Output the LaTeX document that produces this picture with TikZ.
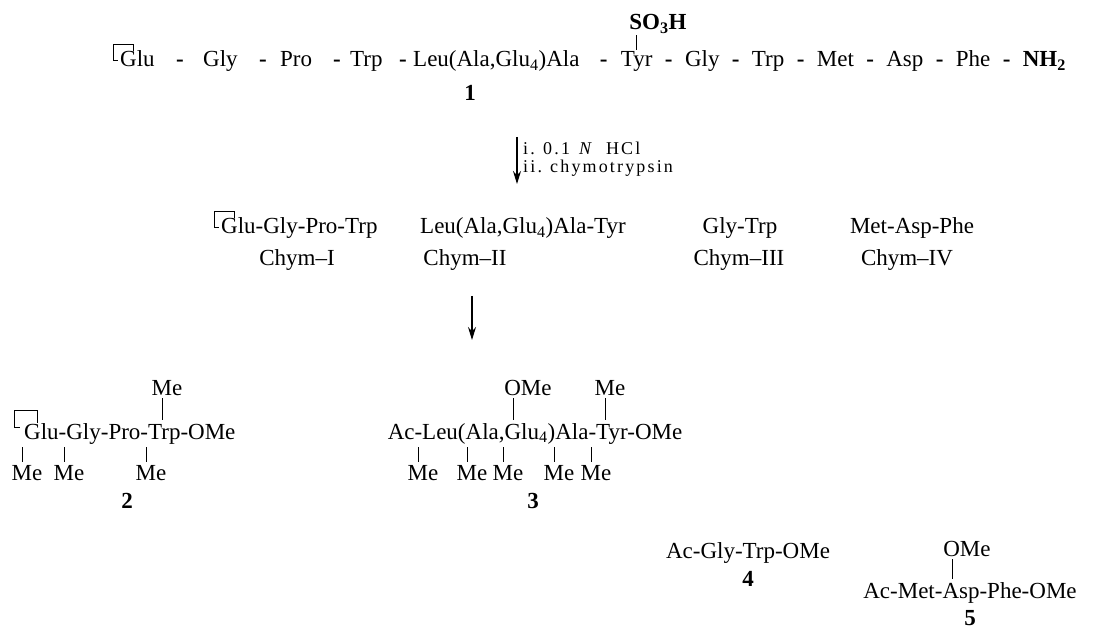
\documentclass[tikz,border=0pt]{standalone}
\usepackage{fontspec}
\setmainfont{Liberation Serif}
\newfontfamily\condfont[LetterSpace=12]{Liberation Serif}
\usetikzlibrary{arrows.meta,positioning}

\begin{document}
\begin{tikzpicture}[x=1pt, y=-1pt,
        pep/.style={font=\fontsize{23}{27}\selectfont, inner sep=0pt},
        cmpd/.style={font=\fontsize{23}{27}\selectfont\bfseries, inner sep=0pt},
        cond/.style={font=\condfont\fontsize{18}{20}\selectfont, inner sep=0pt},
        bond/.style={line width=0.6pt, shorten <=3pt, shorten >=3pt},
        ring/.style={line width=0.6pt},
        rxn/.style={line width=1.3pt, -{Stealth[length=13pt,width=8pt]}}]
    \useasboundingbox (0,0) rectangle (1116,628);

    \node[pep, anchor=base west] (glu) at (120,67) {Glu};
    \node[cmpd, anchor=base] (d1) at (180,67) {-};
    \node[pep, anchor=base west] (gly) at (203,67) {Gly};
    \node[cmpd, anchor=base] (d2) at (263,67) {-};
    \node[pep, anchor=base west] (pro) at (280,67) {Pro};
    \node[cmpd, anchor=base] (d3) at (337,67) {-};
    \node[pep, anchor=base west] (trp) at (350,67) {Trp};
    \node[cmpd, anchor=base] (d4) at (403,67) {-};
    \node[pep, anchor=base west] (leu) at (413,67) {Leu(Ala,Glu\textsubscript{4})Ala};
    \node[cmpd, base right=20pt of leu] (d5) {-};
    \node[pep, base right=13pt of d5] (tyr) {Tyr};
    \node[cmpd, base right=12pt of tyr] (d6) {-};
    \node[pep, base right=12pt of d6] (glyb) {Gly};
    \node[cmpd, base right=12pt of glyb] (d7) {-};
    \node[pep, base right=12pt of d7] (trpb) {Trp};
    \node[cmpd, base right=12pt of trpb] (d8) {-};
    \node[pep, base right=12pt of d8] (met) {Met};
    \node[cmpd, base right=12pt of met] (d9) {-};
    \node[pep, base right=12pt of d9] (asp) {Asp};
    \node[cmpd, base right=12pt of asp] (d10) {-};
    \node[pep, base right=12pt of d10] (phe) {Phe};
    \node[cmpd, base right=12pt of phe] (d11) {-};
    \node[cmpd, base right=12pt of d11] (nh) {NH\textsubscript{2}};
    \node[cmpd, anchor=base] (so) at (658,30) {SO\textsubscript{3}H};
    \draw[bond, shorten <=1pt, shorten >=2pt] ([xshift=-22pt]so.south) -- ([xshift=-22pt]so.south |- tyr.north);
    \draw[ring, shift={(glu.base west)}] (13,-16) -- (13,-23) -- (-7,-23) -- (-7,-7) -- (-2,-7);
    \node[cmpd, anchor=base] (n1) at (470,101) {1};

    \coordinate (a1s) at (517,137);
    \coordinate (a1e) at (517,184);
    \draw[rxn] (a1s) -- (a1e);
    \node[cond, anchor=base west] (ci) at (523,155) {i.};
    \node[cond, anchor=base west] (cia) at (543,155) {0.1\hspace{9pt}\textit{N}\hspace{12pt}HCl};
    \node[cond, anchor=base west] (cii) at (523,173) {ii.};
    \node[cond, anchor=base west] (ciia) at (550,173) {chymotrypsin};

    \node[pep, anchor=base west] (ch1) at (221,234) {Glu-Gly-Pro-Trp};
    \draw[ring, shift={(ch1.base west)}] (13,-16) -- (13,-23) -- (-7,-23) -- (-7,-7) -- (-2,-7);
    \node[pep, anchor=base] (chl1) at (297,266) {Chym–I};
    \node[pep, anchor=base west] (ch2) at (420,234) {Leu(Ala,Glu\textsubscript{4})Ala-Tyr};
    \node[pep, anchor=base] (chl2) at (465,266) {Chym–II};
    \node[pep, anchor=base] (ch3) at (740,234) {Gly-Trp};
    \node[pep, anchor=base] (chl3) at (739,266) {Chym–III};
    \node[pep, anchor=base] (ch4) at (912,234) {Met-Asp-Phe};
    \node[pep, anchor=base] (chl4) at (907,266) {Chym–IV};

    \coordinate (a2s) at (472,296);
    \coordinate (a2e) at (472,340);
    \draw[rxn] (a2s) -- (a2e);

    \node[pep, anchor=base west] (p2) at (24,439) {Glu-Gly-Pro-Trp-OMe};
    \draw[ring, shift={(p2.base west)}] (13,-16) -- (13,-29) -- (-10,-29) -- (-10,-12) -- (-4,-12);
    \node[pep, anchor=base] (m2t) at (167,395) {Me};
    \node[pep, anchor=base] (m2a) at (27,480) {Me};
    \node[pep, anchor=base] (m2b) at (69,480) {Me};
    \node[pep, anchor=base] (m2c) at (151,480) {Me};
    \draw[bond] ([xshift=-5pt]m2t.south) -- ([xshift=-5pt]m2t.south |- p2.north);
    \foreach \m in {m2a,m2b,m2c}
        \draw[bond] ([xshift=-5pt]\m.north |- p2.south) -- ([xshift=-5pt]\m.north);
    \node[cmpd, anchor=base] (n2) at (127,508) {2};

    \node[pep, anchor=base] (p3) at (535,439) {Ac-Leu(Ala,Glu\textsubscript{4})Ala-Tyr-OMe};
    \node[pep, anchor=base] (o3t) at (528,395) {OMe};
    \node[pep, anchor=base] (m3t) at (610,395) {Me};
    \draw[bond] ([xshift=-15pt]o3t.south) -- ([xshift=-15pt]o3t.south |- p3.north);
    \draw[bond] ([xshift=-5pt]m3t.south) -- ([xshift=-5pt]m3t.south |- p3.north);
    \foreach \x [count=\i] in {423,472,508,559,596} {
        \node[pep, anchor=base] (m3\i) at (\x,480) {Me};
        \draw[bond] ([xshift=-5pt]m3\i.north |- p3.south) -- ([xshift=-5pt]m3\i.north);
    }
    \node[cmpd, anchor=base] (n3) at (533,508) {3};

    \node[pep, anchor=base] (p4) at (748,558) {Ac-Gly-Trp-OMe};
    \node[cmpd, anchor=base] (n4) at (748,586) {4};
    \node[pep, anchor=base] (o5) at (967,556) {OMe};
    \node[pep, anchor=base] (p5) at (970,598) {Ac-Met-Asp-Phe-OMe};
    \draw[bond] ([xshift=-15pt]o5.south) -- ([xshift=-15pt]o5.south |- p5.north);
    \node[cmpd, anchor=base] (n5) at (970,625) {5};
\end{tikzpicture}
\end{document}
